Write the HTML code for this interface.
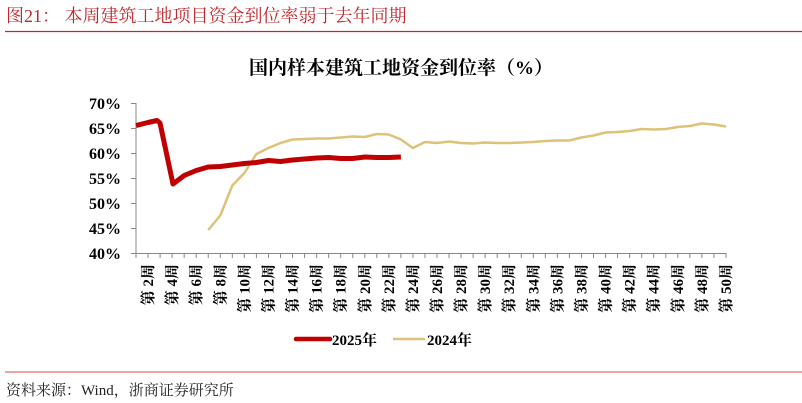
<!DOCTYPE html>
<html><head><meta charset="utf-8"><style>
body{margin:0;background:#fff;width:802px;height:403px;overflow:hidden}
svg{display:block}
</style></head><body>
<svg width="802" height="403" xmlns="http://www.w3.org/2000/svg">
<text x="6" y="22" font-family="'Liberation Serif','Noto Serif CJK SC',serif" font-size="18" fill="#c0282d">图21：  本周建筑工地项目资金到位率弱于去年同期</text>
<line x1="5" y1="31.5" x2="802" y2="31.5" stroke="#c0282d" stroke-width="1.2"/>
<text x="401" y="74" text-anchor="middle" font-family="'Liberation Serif','Noto Serif CJK SC',serif" font-size="19" font-weight="bold" fill="#000">国内样本建筑工地资金到位率（%）</text>
<g font-family="'Liberation Serif',serif" font-size="16" font-weight="bold" fill="#000" text-anchor="end">
<text x="121" y="109">70%</text><text x="121" y="134">65%</text><text x="121" y="159">60%</text><text x="121" y="184">55%</text><text x="121" y="209">50%</text><text x="121" y="234">45%</text><text x="121" y="259">40%</text>
</g>
<g stroke="#888" stroke-width="1">
<line x1="136" y1="103" x2="136" y2="253"/>
<line x1="131" y1="103.5" x2="136" y2="103.5"/><line x1="131" y1="128.5" x2="136" y2="128.5"/><line x1="131" y1="153.5" x2="136" y2="153.5"/><line x1="131" y1="178.5" x2="136" y2="178.5"/><line x1="131" y1="203.5" x2="136" y2="203.5"/><line x1="131" y1="228.5" x2="136" y2="228.5"/>
<line x1="131" y1="253.5" x2="726" y2="253.5"/>
</g>
<g id="ticks" stroke="#888" stroke-width="1"></g>
<g id="xl" font-family="'Liberation Serif','Noto Serif CJK SC',serif" font-size="15" font-weight="bold" fill="#000"></g>
<polyline fill="none" stroke="#ddc277" stroke-width="2.5" stroke-linejoin="round" points="208.2,230 220.3,215.5 232.3,185.5 244.4,173 256.4,154 268.4,148 280.5,143 292.5,139.5 304.6,139 316.6,138.5 328.6,138.5 340.7,137.5 352.7,136.5 364.8,137 376.8,134 388.8,134.5 400.9,139.5 412.9,148 425,142 437,143 449,141.5 461.1,143 473.1,143.5 485.2,142.5 497.2,143 509.2,143 521.3,142.5 533.3,142 545.4,141 557.4,140.5 569.4,140.5 581.5,137.5 593.5,135.5 605.6,132.5 617.6,132 629.6,131 641.7,129 653.7,129.5 665.8,129 677.8,127 689.8,126 701.9,123.5 713.9,124.5 726,126.5"/>
<polyline fill="none" stroke="#c00000" stroke-width="5" stroke-linejoin="round" points="136,125.5 148,122.5 157,120.5 160,123 173,184 184.2,175.5 196.2,170.5 208.2,167 220.3,166.5 232.3,165 244.4,163.5 256.4,162.5 268.4,160.5 280.5,161.5 292.5,160 304.6,159 316.6,158 328.6,157.5 340.7,158.5 352.7,158.5 364.8,157 376.8,157.5 388.8,157.5 400.9,157"/>
<line x1="296" y1="339" x2="330" y2="339" stroke="#c00000" stroke-width="4.5" stroke-linecap="round"/>
<text x="332" y="345" font-family="'Liberation Serif','Noto Serif CJK SC',serif" font-size="15" font-weight="bold">2025年</text>
<line x1="393" y1="339" x2="425" y2="339" stroke="#ddc277" stroke-width="2.5"/>
<text x="427" y="345" font-family="'Liberation Serif','Noto Serif CJK SC',serif" font-size="15" font-weight="bold">2024年</text>
<line x1="5" y1="372" x2="802" y2="372" stroke="#e07070" stroke-width="1.2"/>
<text x="6" y="395" font-family="'Liberation Serif','Noto Serif CJK SC',serif" font-size="15" fill="#222">资料来源：Wind，浙商证券研究所</text>
</svg>
<script>
var t=document.getElementById('ticks'),l=document.getElementById('xl'),ns='http://www.w3.org/2000/svg';
for(var w=1;w<=50;w++){var x=136+(w-1)*12.04;var ln=document.createElementNS(ns,'line');ln.setAttribute('x1',x);ln.setAttribute('x2',x);ln.setAttribute('y1',253);ln.setAttribute('y2',258);t.appendChild(ln);
if(w%2==0){var tx=document.createElementNS(ns,'text');tx.setAttribute('transform','translate('+(x+5)+',264) rotate(-90)');tx.setAttribute('text-anchor','end');tx.textContent='第 '+w+'周';l.appendChild(tx);}}
</script>
</body></html>
